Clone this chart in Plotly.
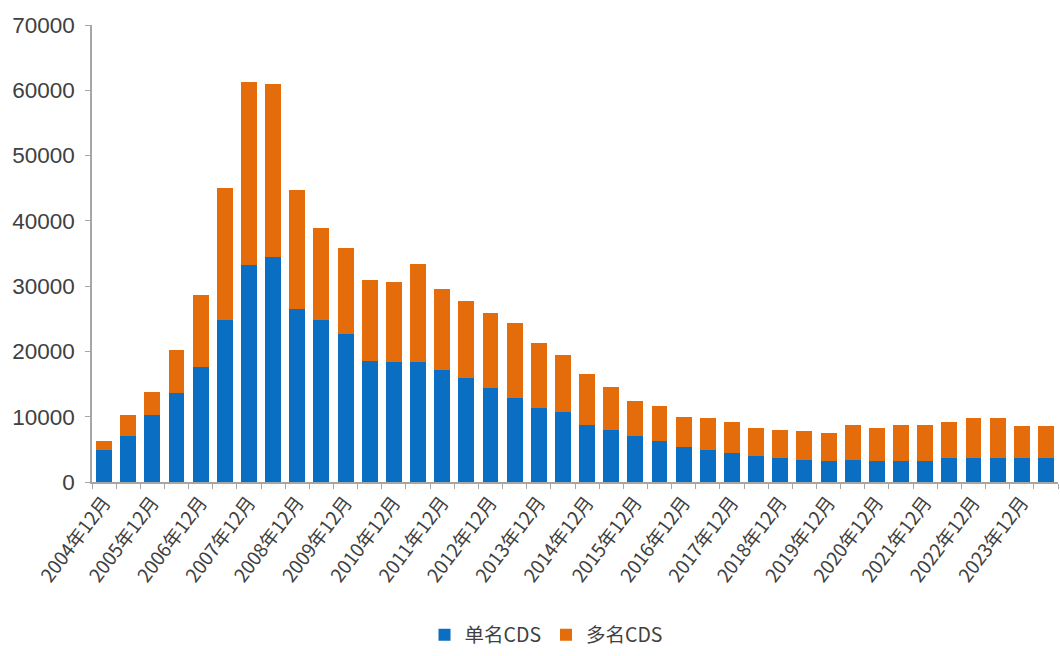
import plotly.graph_objects as go

categories = []
for y in range(2004, 2025):
    for m in (6, 12):
        if (y == 2004 and m == 6):
            continue
        categories.append(f"{y}年{m}月")
categories = categories[:40]

tick_labels = [c if c.endswith("12月") else "" for c in categories]

single_name = [4830, 7020, 10280, 13630, 17600, 24830, 33180, 34450, 26560, 24830,
               22640, 18570, 18320, 18320, 17150, 15880, 14400, 12870, 11300, 10780,
               8800, 7980, 7020, 6350, 5340, 4830, 4430, 3910, 3660, 3410,
               3150, 3410, 3150, 3150, 3150, 3660, 3660, 3660, 3660, 3660]
multi_name = [1520, 3260, 3550, 6570, 11000, 20210, 28040, 26470, 18220, 14100,
              13180, 12360, 12370, 15010, 12360, 11850, 11450, 11560, 9920, 8700,
              7730, 6620, 5350, 5350, 4580, 4940, 4820, 4380, 4370, 4380,
              4380, 5390, 5140, 5650, 5650, 5590, 6110, 6110, 4870, 4870]

font_family = "Liberation Sans, Arial, Noto Sans CJK SC, sans-serif"

fig = go.Figure()
fig.add_trace(go.Bar(x=categories, y=single_name, name="单名CDS",
                     marker=dict(color="#0a6fc2", line=dict(width=0))))
fig.add_trace(go.Bar(x=categories, y=multi_name, name="多名CDS",
                     marker=dict(color="#e46c0a", line=dict(width=0))))

fig.update_layout(
    barmode="stack",
    bargap=0.34,
    width=1060, height=656,
    margin=dict(l=92, r=2, t=25, b=172),
    plot_bgcolor="white", paper_bgcolor="white",
    font=dict(family=font_family, color="#404040"),
    showlegend=True,
    legend=dict(orientation="h", x=0.47, xanchor="center", y=-0.335, yanchor="middle",
                font=dict(size=19.5, family="Noto Sans CJK SC, sans-serif", color="#404040"),
                itemsizing="constant", traceorder="normal"),
)
fig.update_xaxes(
    type="category",
    tickmode="array", tickvals=categories, ticktext=tick_labels,
    tickangle=-53,
    tickson="boundaries",
    ticks="outside", ticklen=5, tickcolor="#a6a6a6",
    showline=True, linecolor="#a6a6a6", linewidth=1.5,
    showgrid=False,
    tickfont=dict(size=19, family="Noto Sans CJK SC, sans-serif", color="#404040"),
)
fig.update_yaxes(
    range=[0, 70000], tickvals=[0, 10000, 20000, 30000, 40000, 50000, 60000, 70000],
    tickformat="d",
    ticks="outside", ticklen=5, tickcolor="#a6a6a6",
    ticklabelstandoff=6,
    showline=True, linecolor="#a6a6a6", linewidth=1.5,
    showgrid=False, zeroline=False,
    tickfont=dict(size=22.5, color="#404040"),
)

fig.write_html("out.html")
